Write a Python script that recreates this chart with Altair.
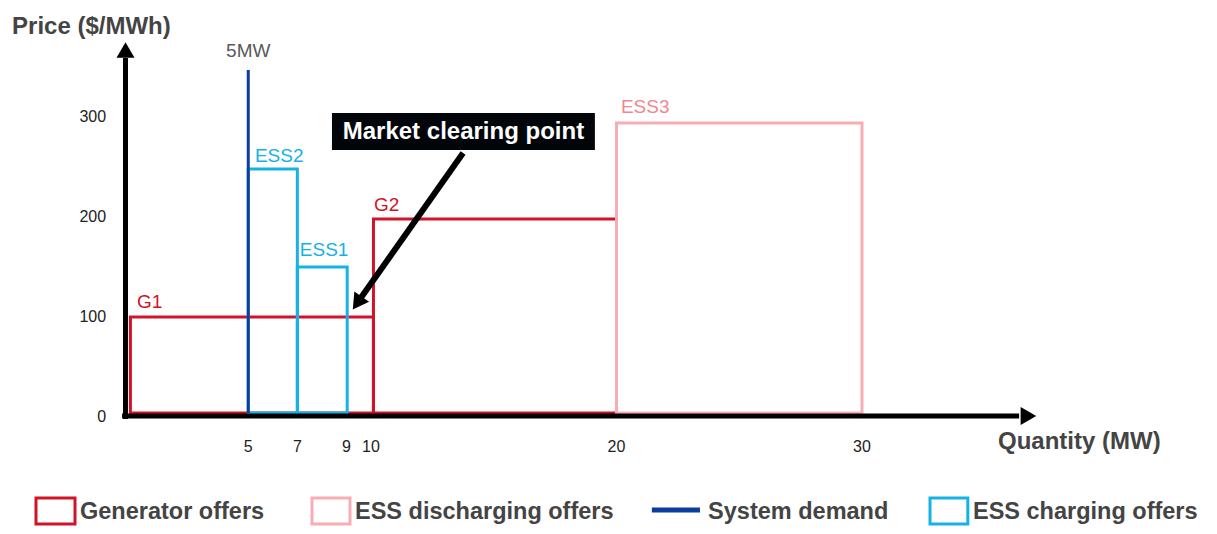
import altair as alt
import pandas as pd

# ---------------- data ----------------
offer_names = ["G1", "G2", "ESS3", "ESS2", "ESS1"]
offer_types = ["Generator offers", "Generator offers", "ESS discharging offers",
               "ESS charging offers", "ESS charging offers"]
offer_q_start = [0.2, 10.1, 20.0, 5.0, 7.0]
offer_q_end = [10.1, 20.0, 30.0, 7.0, 9.03]
offer_price = [100, 198, 294, 248, 150]
offer_base = 4
label_q = [0.47, 10.12, 20.18, 5.27, 7.1]
label_price = [115, 212, 310, 261, 167]

demand_q = 5
demand_top = 347
demand_label = "5MW"

x_ticks = [5, 7, 9, 10, 20, 30]
y_ticks = [0, 100, 200, 300]

type_domain = ["Generator offers", "ESS discharging offers", "System demand", "ESS charging offers"]
type_colors = ["#d01326", "#f8adb4", "#0b3d9e", "#16b2e4"]
label_colors = ["#d01326", "#f2868f", "#0b3d9e", "#16b2e4"]

# annotation
mcp_text = "Market clearing point"
mcp_box_q = [8.41, 19.12]
mcp_box_p = [304, 267]
mcp_arrow_from = [13.75, 264]
mcp_arrow_to = [9.44, 114]

X_DOM = [-117.5 / 24.55, (1201 - 117.5) / 24.55]
Y_DOM = [-109, 409]
xs = alt.Scale(domain=X_DOM, nice=False, zero=False)
ys = alt.Scale(domain=Y_DOM, nice=False, zero=False)
cs = alt.Scale(domain=type_domain, range=type_colors)
lcs = alt.Scale(domain=type_domain, range=label_colors)

FONT = "Liberation Sans"

offers = pd.DataFrame({
    "name": offer_names, "type": offer_types, "q0": offer_q_start, "q1": offer_q_end,
    "p": offer_price, "base": [offer_base] * len(offer_names),
    "lq": label_q, "lp": label_price,
})

def X(f):
    return alt.X(f, type="quantitative", scale=xs, axis=None)

def Y(f):
    return alt.Y(f, type="quantitative", scale=ys, axis=None)

gen_rects = alt.Chart(offers[offers["type"] != "ESS charging offers"]).mark_rect(
    fillOpacity=0, strokeWidth=3
).encode(
    x=X("q0"), x2="q1", y=Y("base"), y2="p",
    stroke=alt.Color("type:N", scale=cs, legend=None),
)
chg_rects = alt.Chart(offers[offers["type"] == "ESS charging offers"]).mark_rect(
    fillOpacity=0, strokeWidth=3
).encode(
    x=X("q0"), x2="q1", y=Y("base"), y2="p",
    stroke=alt.Color("type:N", scale=cs, legend=None),
)
offer_labels = alt.Chart(offers).mark_text(
    align="left", baseline="middle", fontSize=19, font=FONT
).encode(
    x=X("lq"), y=Y("lp"), text="name:N",
    color=alt.Color("type:N", scale=lcs, legend=None),
)

demand = pd.DataFrame({"q": [demand_q], "p0": [offer_base], "p1": [demand_top],
                       "lab": [demand_label], "lp": [366]})
demand_line = alt.Chart(demand).mark_rule(strokeWidth=3, color="#0b3d9e").encode(
    x=X("q"), y=Y("p0"), y2="p1")
demand_text = alt.Chart(demand).mark_text(
    align="center", baseline="middle", fontSize=19, font=FONT, color="#595959"
).encode(x=X("q"), y=Y("lp"), text="lab:N")

# axes (arrows)
axes_lines = pd.DataFrame({"x0": [0, -0.14], "x1": [0, 36.4], "y0": [-2, 1], "y1": [359, 1]})
axis_rules = alt.Chart(axes_lines).mark_rule(strokeWidth=5, color="#000000").encode(
    x=X("x0"), x2="x1", y=Y("y0"), y2="y1")
heads = pd.DataFrame({"x": [0, 36.78], "y": [367, 1], "shape": ["triangle-up", "triangle-right"]})
axis_heads = alt.Chart(heads).mark_point(filled=True, size=324, color="#000000", opacity=1).encode(
    x=X("x"), y=Y("y"), shape=alt.Shape("shape:N", scale=None))

xt = pd.DataFrame({"v": x_ticks, "y": [-30] * len(x_ticks)})
x_tick_text = alt.Chart(xt).mark_text(fontSize=16, font=FONT, color="#222222", baseline="middle").encode(
    x=X("v"), y=Y("y"), text="v:Q")
yt = pd.DataFrame({"v": y_ticks, "x": [-0.79] * len(y_ticks)})
y_tick_text = alt.Chart(yt).mark_text(fontSize=16, font=FONT, color="#222222", align="right",
                                      baseline="middle").encode(
    x=X("x"), y=Y("v"), text="v:Q")

titles = pd.DataFrame({"t": ["Price ($/MWh)", "Quantity (MW)"], "x": [-4.62, 35.54], "y": [390, -25]})
title_text = alt.Chart(titles).mark_text(fontSize=24, font=FONT, fontWeight="bold", color="#444444",
                                         align="left", baseline="middle").encode(
    x=X("x"), y=Y("y"), text="t:N")

# market clearing point annotation
box = pd.DataFrame({"x0": [mcp_box_q[0]], "x1": [mcp_box_q[1]], "y0": [mcp_box_p[0]], "y1": [mcp_box_p[1]],
                    "t": [mcp_text], "xc": [(mcp_box_q[0] + mcp_box_q[1]) / 2],
                    "yc": [(mcp_box_p[0] + mcp_box_p[1]) / 2]})
box_rect = alt.Chart(box).mark_rect(color="#02060a").encode(x=X("x0"), x2="x1", y=Y("y0"), y2="y1")
box_text = alt.Chart(box).mark_text(fontSize=24, font=FONT, fontWeight="bold", color="white",
                                    baseline="middle").encode(x=X("xc"), y=Y("yc"), text="t:N")
arr = pd.DataFrame({"x0": [mcp_arrow_from[0]], "y0": [mcp_arrow_from[1]],
                    "x1": [mcp_arrow_to[0]], "y1": [mcp_arrow_to[1]]})
arrow_line = alt.Chart(arr).mark_rule(strokeWidth=6, color="#000000").encode(
    x=X("x0"), x2="x1", y=Y("y0"), y2="y1")
arrow_head = alt.Chart(arr).mark_point(filled=True, size=324, shape="triangle-up", angle=215,
                                       color="#000000", opacity=1).encode(x=X("x1"), y=Y("y1"))

# legend
leg_names = ["Generator offers", "ESS discharging offers", "System demand", "ESS charging offers"]
leg_sym_x0 = [-3.646, 7.597, 21.44, 32.77]
leg_sym_x1 = [-2.057, 9.145, 23.40, 34.31]
leg_text_x = [-1.853, 9.348, 23.73, 34.52]
leg = pd.DataFrame({"name": leg_names, "x0": leg_sym_x0, "x1": leg_sym_x1, "tx": leg_text_x,
                    "y0": [-81] * 4, "y1": [-107] * 4, "ym": [-93] * 4, "yt": [-95] * 4})
leg_boxes = alt.Chart(leg[leg["name"] != "System demand"]).mark_rect(fillOpacity=0, strokeWidth=3).encode(
    x=X("x0"), x2="x1", y=Y("y0"), y2="y1",
    stroke=alt.Color("name:N", scale=cs, legend=None))
leg_line = alt.Chart(leg[leg["name"] == "System demand"]).mark_rule(strokeWidth=5).encode(
    x=X("x0"), x2="x1", y=Y("ym"),
    color=alt.Color("name:N", scale=cs, legend=None))
leg_text = alt.Chart(leg).mark_text(fontSize=23.5, font=FONT, fontWeight="bold", color="#444444",
                                    align="left", baseline="middle").encode(
    x=X("tx"), y=Y("yt"), text="name:N")

chart = alt.layer(
    gen_rects, chg_rects, demand_line, axis_rules, axis_heads, offer_labels, demand_text,
    x_tick_text, y_tick_text, title_text, box_rect, box_text, arrow_line, arrow_head,
    leg_boxes, leg_line, leg_text,
).properties(width=1201, height=518, padding=0, autosize="none",
             background="white").configure_view(stroke=None)

chart.save("out.html", embed_options={"renderer": "svg", "actions": False})
